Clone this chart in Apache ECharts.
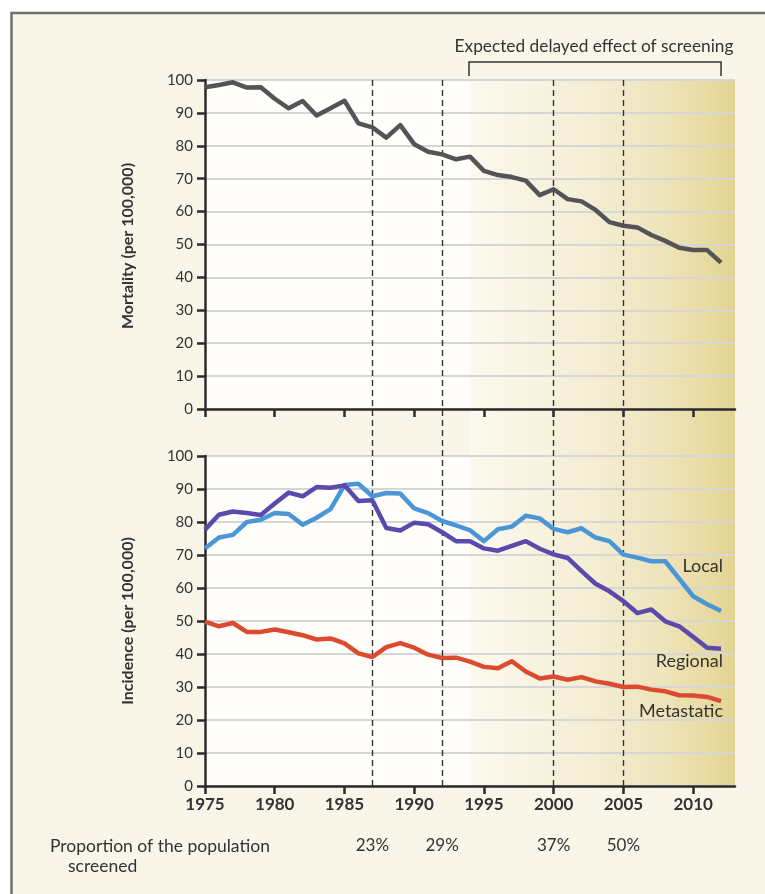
<!DOCTYPE html>
<html><head><meta charset="utf-8">
<script src="https://cdn.jsdelivr.net/npm/echarts@6/dist/echarts.min.js"></script>
<style>html,body{margin:0;padding:0;background:#fff}#c{width:765px;height:894px}</style>
</head><body><div id="c"></div>
<script>
const years = [1975,1976,1977,1978,1979,1980,1981,1982,1983,1984,1985,1986,1987,1988,1989,1990,1991,1992,1993,1994,1995,1996,1997,1998,1999,2000,2001,2002,2003,2004,2005,2006,2007,2008,2009,2010,2011,2012];
const mortality = [97.8,98.5,99.3,97.7,97.8,94.3,91.4,93.6,89.2,91.4,93.7,86.8,85.6,82.5,86.3,80.5,78.2,77.4,75.9,76.7,72.4,71.1,70.5,69.4,65.0,66.8,63.8,63.1,60.5,56.8,55.7,55.2,52.9,51.1,49.0,48.3,48.3,44.5];
const local = [72.0,75.3,76.1,80.0,80.7,82.7,82.4,79.2,81.3,83.9,91.2,91.6,87.8,88.8,88.6,84.1,82.7,80.3,79.0,77.5,74.2,77.8,78.6,81.9,81.1,77.9,76.9,78.1,75.3,74.2,70.1,69.2,68.1,68.1,62.8,57.5,55.1,53.0];
const regional = [77.7,82.2,83.2,82.7,82.1,85.6,88.9,87.8,90.6,90.4,91.1,86.4,86.6,78.2,77.4,79.8,79.3,76.9,74.2,74.2,72.0,71.3,72.8,74.2,71.9,70.2,69.1,65.1,61.3,59.0,56.0,52.4,53.5,49.9,48.4,45.2,41.9,41.6];
const metastatic = [49.8,48.4,49.4,46.7,46.7,47.4,46.6,45.7,44.4,44.7,43.2,40.2,39.1,42.1,43.3,41.9,39.8,38.8,38.9,37.7,36.1,35.7,37.8,34.7,32.6,33.2,32.2,33.0,31.7,31.0,30.0,30.1,29.2,28.7,27.5,27.4,27.0,25.7];
const xTicks = [1975,1980,1985,1990,1995,2000,2005,2010];
const screeningYears = [1987,1992,2000,2005];
const screeningLabels = ['23%','29%','37%','50%'];
const delayedStart = 1994, delayedEnd = 2012;
const seriesNames = ['Local','Regional','Metastatic'];
const seriesLabelValues = [66.7,37.9,22.7];

const FONT = 'Lato, "Open Sans", sans-serif';
const TXT = '#333333';
const AX = '#2b2b2b';
const chart = echarts.init(document.getElementById('c'), null, {renderer:'canvas'});
const pairs = a => years.map((y,i)=>[y,a[i]]);

function xAx(g, labels){
  return {gridIndex:g, type:'value', min:1975, max:2013, z:1,
    axisLine:{show:g!==2, onZero:true, lineStyle:{color:AX,width:2.5}},
    axisTick:{show:g!==2, customValues:xTicks, length:8, lineStyle:{color:AX,width:2.5}},
    axisLabel:{show:labels, customValues:xTicks, formatter:v=>String(v), fontFamily:FONT, fontWeight:'bold', fontSize:17, color:TXT, margin:10},
    splitLine:{show:false}, show:g!==2};
}
function yAx(g){
  if(g===2) return {gridIndex:2, type:'value', min:0, max:1, show:false};
  return {gridIndex:g, type:'value', min:0, max:100, interval:10, z:1,
    axisLine:{show:true, lineStyle:{color:AX,width:2.5}},
    axisTick:{show:true, length:8, lineStyle:{color:AX,width:2.5}},
    axisLabel:{fontFamily:FONT, fontSize:15, color:TXT, margin:12},
    splitLine:{show:true, lineStyle:{color:'#d6d6d6', width:2}}};
}
const whiteArea = {silent:true, z:0, itemStyle:{color:'#fffefa'}, data:[[{xAxis:1975},{xAxis:delayedStart}]]};
const lineS = (name, data, color, g) => ({name, type:'line', xAxisIndex:g, yAxisIndex:g, data:pairs(data), symbol:'none', z:3,
  lineStyle:{color, width:4.5, join:'round'}, silent:true});

const option = {
  backgroundColor:'#f9f5e9',
  animation:false,
  grid:[
    {left:205, right:30, top:80, height:329},
    {left:205, right:30, top:456, height:330},
    {left:205, right:30, top:80, height:706}
  ],
  xAxis:[xAx(0,false), xAx(1,true), xAx(2,false)],
  yAxis:[yAx(0), yAx(1), yAx(2)],
  series:[
    {type:'line', xAxisIndex:2, yAxisIndex:2, data:[], silent:true,
     markArea:{silent:true, z:0, itemStyle:{color:{type:'linear',x:0,y:0,x2:1,y2:0,colorStops:[
        {offset:0,color:'#fcf9ee'},{offset:0.45,color:'#f5eed5'},{offset:0.75,color:'#eee3b8'},{offset:1,color:'#e3d492'}]}},
       data:[[{xAxis:delayedStart},{xAxis:2013}]]},
     markLine:{silent:true, z:2, symbol:'none', label:{show:false},
       lineStyle:{type:[6,4], color:'#333', width:1.4}, data:screeningYears.map(y=>({xAxis:y}))}},
    Object.assign(lineS('Mortality', mortality, '#535358', 0), {markArea:whiteArea}),
    Object.assign(lineS('Metastatic', metastatic, '#dc4a30', 1), {markArea:whiteArea}),
    lineS('Local', local, '#4a96d6', 1),
    lineS('Regional', regional, '#5b4aab', 1)
  ]
};
chart.setOption(option);

const p = (g, x, y) => chart.convertToPixel({gridIndex:g}, [x,y]);
const graphics = [
  {type:'rect', shape:{x:0,y:0,width:11,height:894}, style:{fill:'#fff'}, silent:true},
  {type:'rect', shape:{x:0,y:0,width:765,height:12}, style:{fill:'#fff'}, silent:true},
  {type:'polyline', shape:{points:[[11.5,894],[11.5,13],[765,13]]}, style:{stroke:'#707070', lineWidth:2.5, fill:null}, silent:true},
  {type:'text', x:128, y:246, rotation:Math.PI/2, style:{text:'Mortality (per 100,000)', font:'bold 16px '+FONT, fill:TXT, align:'center', verticalAlign:'middle'}},
  {type:'text', x:128, y:621, rotation:Math.PI/2, style:{text:'Incidence (per 100,000)', font:'bold 16px '+FONT, fill:TXT, align:'center', verticalAlign:'middle'}},
  {type:'text', x:50, y:846, style:{text:'Proportion of the population', font:'17.5px '+FONT, fill:TXT, align:'left', verticalAlign:'middle'}},
  {type:'text', x:68, y:866, style:{text:'screened', font:'17.5px '+FONT, fill:TXT, align:'left', verticalAlign:'middle'}}
];
const b0 = p(0, delayedStart, 100), b1 = p(0, delayedEnd, 100);
graphics.push({type:'polyline', shape:{points:[[b0[0]-1,76],[b0[0]-1,62],[b1[0],62],[b1[0],76]]}, style:{stroke:'#333', lineWidth:1.5, fill:null}, silent:true});
graphics.push({type:'text', x:594, y:46, style:{text:'Expected delayed effect of screening', font:'17.3px '+FONT, fill:TXT, align:'center', verticalAlign:'middle'}});
screeningYears.forEach((y,i)=>{
  const q = p(1, y, 0);
  graphics.push({type:'text', x:q[0], y:846, style:{text:screeningLabels[i], font:'17px '+FONT, fill:TXT, align:'center', verticalAlign:'middle'}});
});
seriesNames.forEach((n,i)=>{
  const q = p(1, 2012, seriesLabelValues[i]);
  graphics.push({type:'text', x:q[0]+2, y:q[1], z:10, style:{text:n, font:'18px '+FONT, fill:TXT, align:'right', verticalAlign:'middle'}});
});
chart.setOption({graphic:graphics});
</script></body></html>
